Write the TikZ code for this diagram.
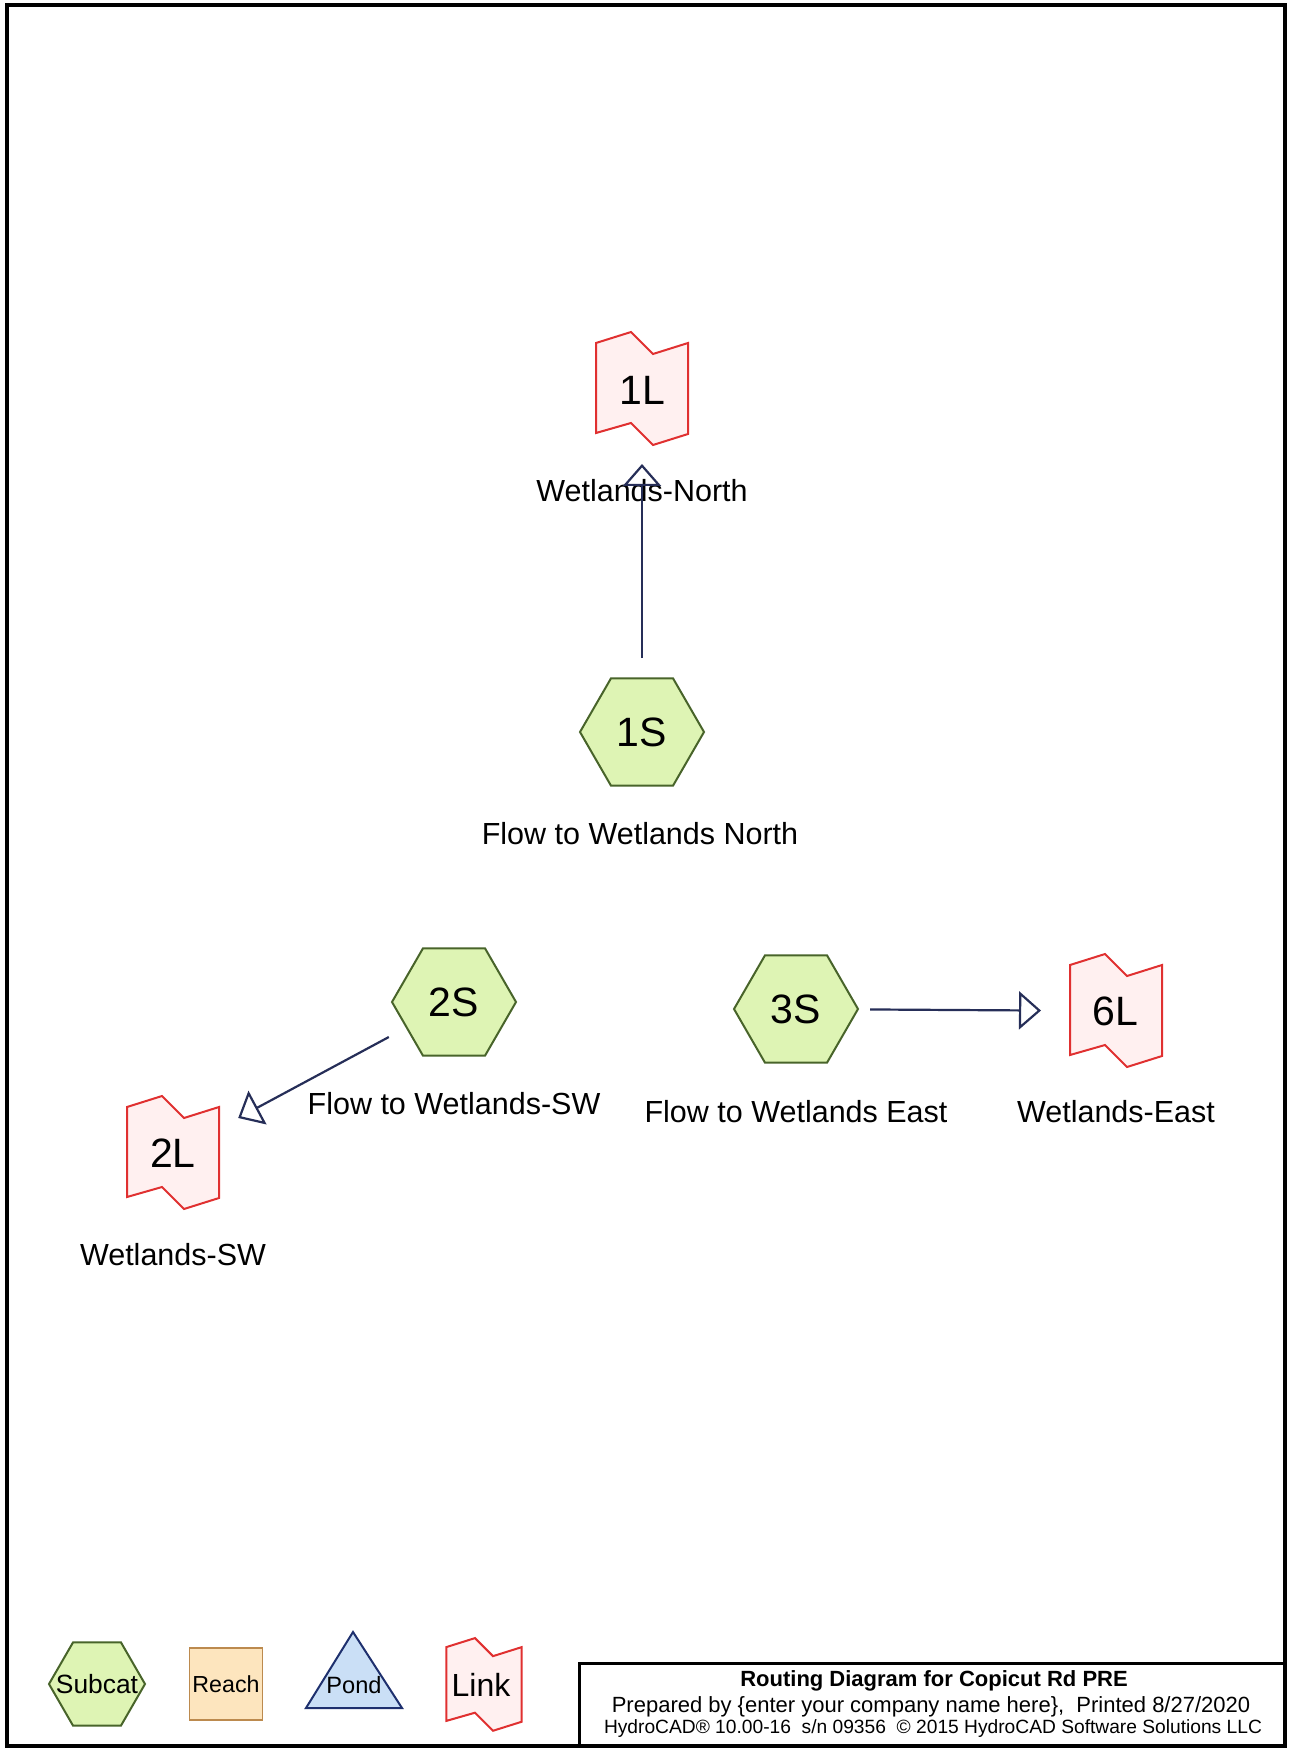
\documentclass[tikz,border=0pt]{standalone}
\usepackage{fontspec}
\setmainfont{Liberation Sans}
\usetikzlibrary{shapes.geometric,arrows.meta}

\definecolor{subfill}{RGB}{222,244,180}
\definecolor{subline}{RGB}{72,100,42}
\definecolor{linkfill}{RGB}{255,240,240}
\definecolor{linkline}{RGB}{224,48,48}
\definecolor{flowline}{RGB}{38,46,88}
\definecolor{reachfill}{RGB}{253,229,190}
\definecolor{reachline}{RGB}{188,138,78}
\definecolor{pondfill}{RGB}{202,223,246}
\definecolor{pondline}{RGB}{30,48,110}

\tikzset{
  subcat/.style={regular polygon, regular polygon sides=6, draw=subline, fill=subfill,
    line width=1pt, inner sep=0pt, minimum size=62pt, font=\fontsize{20.5}{22}\selectfont},
  linkid/.style={inner sep=0pt, font=\fontsize{20.5}{22}\selectfont},
  linkflag/.pic={
    \draw[linkline, fill=linkfill, line width=1pt]
      (-46,-45) -- (-11,-56) -- (11,-34) -- (46,-45) -- (46,46)
      -- (11,57) -- (-11,35) -- (-46,45) -- cycle;
  },
  caption/.style={font=\fontsize{15.25}{18}\selectfont},
  flow/.style={draw=flowline, line width=1.1pt, -{Triangle[open, length=11pt, width=19pt]},
    shorten <=37pt, shorten >=37pt},
}

\begin{document}
\begin{tikzpicture}[x=0.5pt, y=-0.5pt]
\useasboundingbox (0,0) rectangle (1291,1748);

% ===== frame and title block =====
\draw[line width=2pt] (7,5) rectangle (1285,1746);
\draw[line width=1.5pt] (579,1663) rectangle (1285,1746);
\node[font=\bfseries\fontsize{11}{13}\selectfont] (ttl) at (934,1681) {Routing Diagram for Copicut Rd PRE};
\node[font=\fontsize{11}{13}\selectfont] (prep) at (931,1707) {Prepared by \{enter your company name here\},\ \ Printed 8/27/2020};
\node[font=\fontsize{9.6}{11}\selectfont] (ver) at (933,1729) {HydroCAD® 10.00-16\ \ s/n 09356\ \ © 2015 HydroCAD Software Solutions LLC};

% ===== links =====
\pic at (642,388) {linkflag};
\node[linkid] (l1) at (642,390) {1L};
\node[caption] (l1cap) at (642,491) {Wetlands-North};

\pic at (173,1152) {linkflag};
\node[linkid] (l2) at (173,1153) {2L};
\node[caption] (l2cap) at (173,1255) {Wetlands-SW};

\pic at (1116,1010) {linkflag};
\node[linkid] (l6) at (1115,1011) {6L};
\node[caption] (l6cap) at (1116,1112) {Wetlands-East};

% ===== subcatchments =====
\node[subcat] (s1) at (642,732) {1S};
\node[caption] (s1cap) at (640,834) {Flow to Wetlands North};

\node[subcat] (s2) at (454,1002) {2S};
\node[caption] (s2cap) at (454,1104) {Flow to Wetlands-SW};

\node[subcat] (s3) at (796,1009) {3S};
\node[caption] (s3cap) at (796,1112) {Flow to Wetlands East};

% ===== routing =====
\draw[flow] (s1.center) -- (l1.center);
\draw[flow] (s2.center) -- (l2.center);
\draw[flow] (s3.center) -- (l6.center);

% ===== legend =====
\node[subcat, minimum size=48pt, label={[font=\fontsize{13.2}{15}\selectfont]center:Subcat}] (lgsub) at (97,1684) {};
\node[draw=reachline, fill=reachfill, line width=0.8pt, minimum width=36.5pt, minimum height=36pt,
  inner sep=0pt, font=\fontsize{11.6}{14}\selectfont] (lgreach) at (226,1684) {Reach};
\draw[pondline, fill=pondfill, line width=1pt] (353,1632) -- (402,1708) -- (306,1708) -- cycle;
\node[font=\fontsize{11.8}{14}\selectfont] (lgpond) at (354,1685) {Pond};
\pic[scale=0.82] at (484,1684) {linkflag};
\node[font=\fontsize{16}{18}\selectfont] (lglink) at (481,1685) {Link};

\end{tikzpicture}
\end{document}
